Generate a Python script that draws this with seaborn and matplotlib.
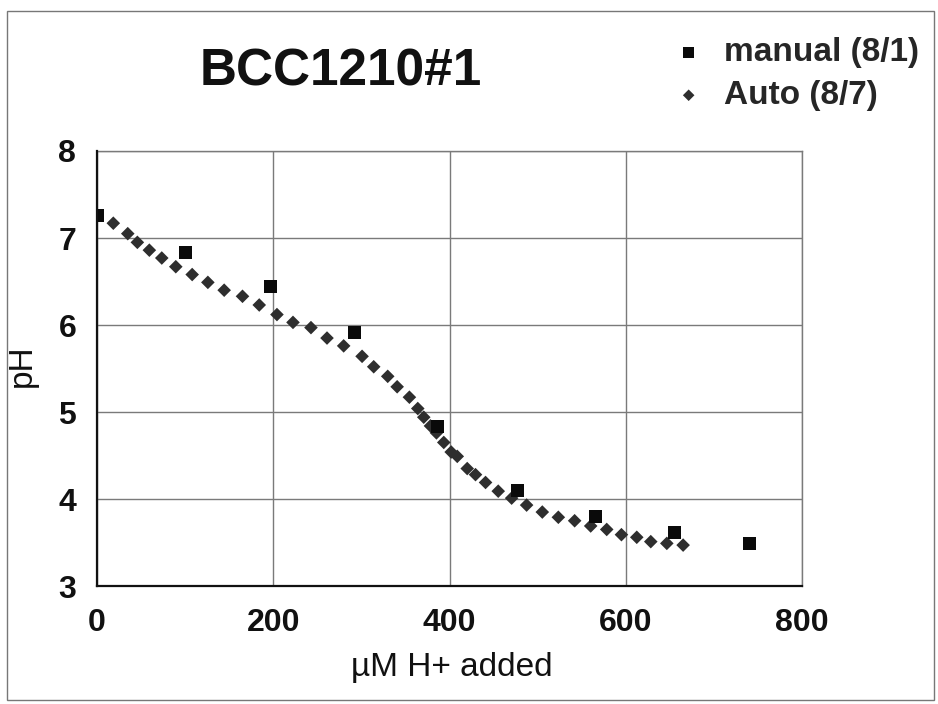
import matplotlib
matplotlib.use("Agg")
import matplotlib.pyplot as plt
import seaborn as sns
import pandas as pd
from matplotlib.patches import Rectangle

# ---- data ----
manual_x = [0, 100, 197, 292, 386, 477, 566, 655, 740]
manual_ph = [7.26, 6.83, 6.44, 5.91, 4.83, 4.10, 3.80, 3.62, 3.49]

auto_x = [0, 18.5, 34.9, 45.8, 59.4, 73.5, 89.4, 108, 125.8, 144.3, 165.1, 184.1,
          204.2, 222.4, 242.8, 261, 279.9, 300.8, 314, 329.9, 340.6, 354.5, 364,
          370.8, 378.4, 385.2, 393.5, 401.9, 408.8, 420.1, 429.5, 440.9, 455.3,
          470.5, 487.5, 505.3, 523.5, 542, 560.2, 578.4, 595.1, 612.5, 628.4,
          646.6, 665.1]
auto_ph = [7.25, 7.17, 7.05, 6.95, 6.86, 6.77, 6.67, 6.58, 6.49, 6.40, 6.33, 6.23,
           6.12, 6.03, 5.97, 5.85, 5.76, 5.64, 5.52, 5.41, 5.29, 5.17, 5.04,
           4.94, 4.84, 4.76, 4.65, 4.54, 4.49, 4.35, 4.28, 4.19, 4.09,
           4.01, 3.93, 3.85, 3.79, 3.75, 3.69, 3.65, 3.59, 3.56, 3.51,
           3.49, 3.47]

title = "BCC1210#1"
manual_label = "manual (8/1)"
auto_label = "Auto (8/7)"
x_label = "\u00b5M H+ added"
y_label = "pH"
x_ticks = [0, 200, 400, 600, 800]
y_ticks = [3, 4, 5, 6, 7, 8]

df_manual = pd.DataFrame({"x": manual_x, "pH": manual_ph})
df_auto = pd.DataFrame({"x": auto_x, "pH": auto_ph})

sns.set_theme(style="white")
plt.rcParams["font.family"] = ["Liberation Sans", "DejaVu Sans"]

fig = plt.figure(figsize=(9.38, 7.04), dpi=100)
W, H = 938, 704
ax = fig.add_axes([97 / W, 1 - 586 / H, 705 / W, 435 / H])

sns.scatterplot(data=df_auto, x="x", y="pH", ax=ax, marker="D", s=48,
                color="#2e2e2e", edgecolor="none", label=auto_label, zorder=3)
sns.scatterplot(data=df_manual, x="x", y="pH", ax=ax, marker="s", s=88,
                color="#0a0a0a", edgecolor="none", label=manual_label, zorder=4)

ax.set_xlim(0, 800)
ax.set_ylim(3, 8)
ax.set_xticks(x_ticks)
ax.set_yticks(y_ticks)
ax.grid(True, color="#7a7a7a", linewidth=1.0)
ax.set_axisbelow(True)

for side in ["top", "right"]:
    ax.spines[side].set_color("#7a7a7a")
    ax.spines[side].set_linewidth(1.0)
for side in ["left", "bottom"]:
    ax.spines[side].set_color("#111111")
    ax.spines[side].set_linewidth(1.6)
    ax.spines[side].set_zorder(5)

ax.tick_params(axis="both", length=0, labelsize=23, colors="#111111")
ax.tick_params(axis="x", pad=16)
ax.tick_params(axis="y", pad=15)
for lab in ax.get_xticklabels() + ax.get_yticklabels():
    lab.set_fontweight("bold")

ax.set_xlabel(x_label, fontsize=24, color="#111111", va="center")
ax.xaxis.set_label_coords(0.5035, -0.1885)
ax.set_ylabel(y_label, fontsize=24, color="#111111", va="center")
ax.yaxis.set_label_coords(-0.106, 0.506)

fig.text(341 / W, 1 - 72 / H, title, fontsize=37, fontweight="bold",
         ha="center", va="center", color="#111111")

handles, labels = ax.get_legend_handles_labels()
order = [labels.index(manual_label), labels.index(auto_label)]
leg = ax.legend([handles[i] for i in order], [labels[i] for i in order],
                loc="upper left", bbox_to_anchor=(672 / W, 1 - 37 / H),
                bbox_transform=fig.transFigure, frameon=False,
                prop={"size": 24, "weight": "bold"}, handletextpad=0.55,
                labelspacing=0.36, handlelength=1.0, borderpad=0,
                borderaxespad=0, markerscale=0.85)

fig.patches.append(Rectangle((7 / W, 1 - 700 / H), 927 / W, 689 / H,
                             transform=fig.transFigure, fill=False,
                             edgecolor="#777777", linewidth=1.0))

fig.savefig("out.png", dpi=100)
